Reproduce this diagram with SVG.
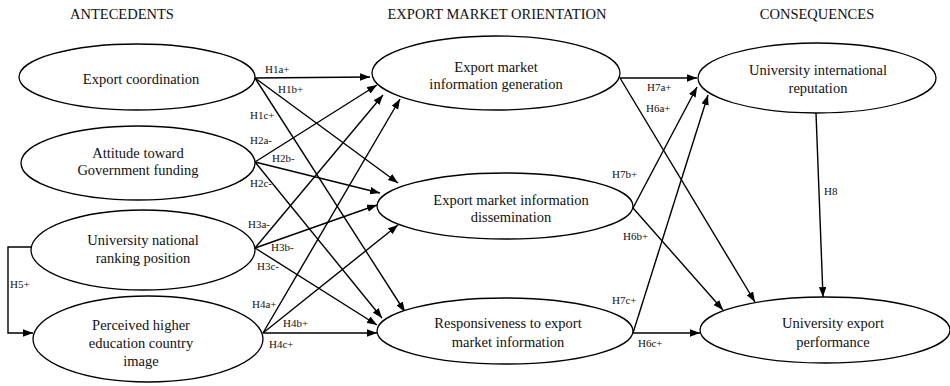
<svg xmlns="http://www.w3.org/2000/svg" width="950" height="386" viewBox="0 0 950 386">
<defs>
<marker id="arr" markerUnits="userSpaceOnUse" markerWidth="11" markerHeight="8" refX="10" refY="3.75" orient="auto">
<path d="M0,0 L10,3.75 L0,7.5 z" fill="#000"/>
</marker>
<style>
.node ellipse{fill:#fff;stroke:#000;stroke-width:1.3}
.nt{font-family:"Liberation Serif","Times New Roman",serif;font-size:14.5px;fill:#111;text-anchor:middle}
.hd{font-family:"Liberation Serif","Times New Roman",serif;font-size:14.5px;fill:#111;text-anchor:middle}
.lb{font-family:"Liberation Serif","Times New Roman",serif;font-size:11px;fill:#111}
.edges line,.edges polyline{stroke:#000;stroke-width:1.4;fill:none;marker-end:url(#arr)}
</style>
</defs>
<rect width="950" height="386" fill="#fff"/>
<g id="headers">
<text class="hd" x="122" y="19">ANTECEDENTS</text>
<text class="hd" x="497" y="19">EXPORT MARKET ORIENTATION</text>
<text class="hd" x="817" y="19">CONSEQUENCES</text>
</g>
<g class="edges" id="connectors">
<line x1="255" y1="78" x2="370" y2="77"/>
<line x1="255" y1="78" x2="398" y2="183"/>
<line x1="255" y1="78" x2="405" y2="312"/>
<line x1="255" y1="162" x2="377" y2="85"/>
<line x1="255" y1="162" x2="380" y2="193"/>
<line x1="255" y1="162" x2="382" y2="318"/>
<line x1="255" y1="248" x2="383" y2="95"/>
<line x1="255" y1="248" x2="377" y2="205"/>
<line x1="255" y1="248" x2="377" y2="325"/>
<line x1="263" y1="333" x2="400" y2="99"/>
<line x1="263" y1="333" x2="398" y2="225"/>
<line x1="263" y1="333" x2="377" y2="333"/>
<polyline points="32,247 8,247 8,333 33,333"/>
<line x1="620" y1="78" x2="697" y2="78"/>
<line x1="620" y1="78" x2="755" y2="302"/>
<line x1="633" y1="208" x2="697" y2="87"/>
<line x1="633" y1="208" x2="723" y2="310"/>
<line x1="633" y1="333" x2="708" y2="95"/>
<line x1="633" y1="333" x2="700" y2="333"/>
<line x1="816" y1="113" x2="823" y2="297"/>
</g>
<g id="labels">
<text class="lb" x="265" y="73">H1a+</text>
<text class="lb" x="278" y="93">H1b+</text>
<text class="lb" x="250" y="119">H1c+</text>
<text class="lb" x="250" y="144">H2a-</text>
<text class="lb" x="272" y="162">H2b-</text>
<text class="lb" x="250" y="187">H2c-</text>
<text class="lb" x="248" y="228">H3a-</text>
<text class="lb" x="271" y="251">H3b-</text>
<text class="lb" x="257" y="270">H3c-</text>
<text class="lb" x="252" y="308">H4a+</text>
<text class="lb" x="283" y="327">H4b+</text>
<text class="lb" x="269" y="348">H4c+</text>
<text class="lb" x="10" y="288">H5+</text>
<text class="lb" x="647" y="91">H7a+</text>
<text class="lb" x="646" y="112">H6a+</text>
<text class="lb" x="612" y="178">H7b+</text>
<text class="lb" x="824" y="195">H8</text>
<text class="lb" x="623" y="240">H6b+</text>
<text class="lb" x="612" y="304">H7c+</text>
<text class="lb" x="638" y="347">H6c+</text>
</g>
<g class="node" id="n-export-coordination">
<ellipse cx="137" cy="77" rx="118" ry="33"/>
<text class="nt" x="141" y="84">Export coordination</text>
</g>
<g class="node" id="n-attitude">
<ellipse cx="138" cy="163" rx="117" ry="37"/>
<text class="nt" x="138" y="158">Attitude toward</text>
<text class="nt" x="138" y="175">Government funding</text>
</g>
<g class="node" id="n-ranking">
<ellipse cx="143" cy="250" rx="112" ry="40"/>
<text class="nt" x="143" y="245">University national</text>
<text class="nt" x="143" y="263">ranking position</text>
</g>
<g class="node" id="n-country-image">
<ellipse cx="148" cy="339" rx="115" ry="43"/>
<text class="nt" x="141" y="330">Perceived higher</text>
<text class="nt" x="141" y="348">education country</text>
<text class="nt" x="141" y="366">image</text>
</g>
<g class="node" id="n-generation">
<ellipse cx="496" cy="73" rx="124" ry="37"/>
<text class="nt" x="496" y="72">Export market</text>
<text class="nt" x="496" y="89">information generation</text>
</g>
<g class="node" id="n-dissemination">
<ellipse cx="505" cy="206" rx="128" ry="33"/>
<text class="nt" x="511" y="205">Export market information</text>
<text class="nt" x="511" y="222">dissemination</text>
</g>
<g class="node" id="n-responsiveness">
<ellipse cx="505" cy="331" rx="128" ry="33"/>
<text class="nt" x="508" y="328">Responsiveness to export</text>
<text class="nt" x="508" y="347">market information</text>
</g>
<g class="node" id="n-reputation">
<ellipse cx="817" cy="78" rx="119" ry="35"/>
<text class="nt" x="818" y="75">University international</text>
<text class="nt" x="818" y="93">reputation</text>
</g>
<g class="node" id="n-performance">
<ellipse cx="825" cy="330" rx="125" ry="33"/>
<text class="nt" x="833" y="328">University export</text>
<text class="nt" x="833" y="347">performance</text>
</g>
</svg>
